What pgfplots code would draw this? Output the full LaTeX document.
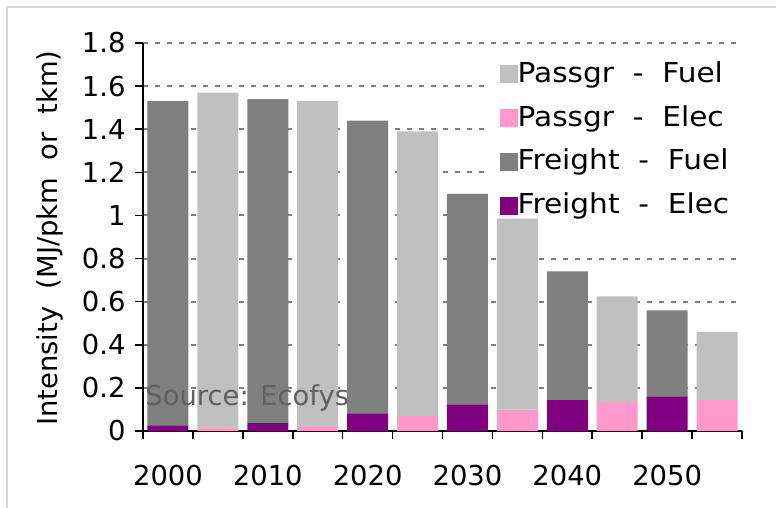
\documentclass[border=0pt]{standalone}
\usepackage{fontspec}
\setmainfont{DejaVu Sans}
\usepackage{pgfplots}
\pgfplotsset{compat=1.18}
\definecolor{pfuel}{HTML}{C0C0C0}
\definecolor{pelec}{HTML}{FF99CC}
\definecolor{ffuel}{HTML}{808080}
\definecolor{felec}{HTML}{800080}
\definecolor{framec}{HTML}{D9D9D9}
\definecolor{srcgray}{HTML}{606060}
\newcommand{\legtxt}[1]{\scalebox{1.08}[1]{#1}}
\begin{document}
\fontsize{13.7bp}{16bp}\selectfont
\begin{tikzpicture}
\useasboundingbox (0,0) rectangle (388bp,254bp);
\draw[framec, line width=1bp] (3.5bp,0) -- (3.5bp,250.5bp) -- (388bp,250.5bp);
\begin{axis}[
  at={(71.5bp,38.5bp)}, anchor=south west,
  scale only axis, width=299.5bp, height=194bp,
  ybar stacked, bar width=0.82,
  xmin=-0.5, xmax=11.5, ymin=0, ymax=1.8,
  axis lines*=left,
  axis line style={line width=1bp, black},
  ytick={0,0.2,0.4,0.6,0.8,1,1.2,1.4,1.6,1.8},
  xtick={-0.5,0.5,1.5,2.5,3.5,4.5,5.5,6.5,7.5,8.5,9.5,10.5,11.5},
  x tick label as interval,
  xticklabels={2000,,2010,,2020,,2030,,2040,,2050,},
  xticklabel style={yshift=-8.5bp},
  tick align=outside, major tick length=4bp,
  tick style={line width=0.8bp, black},
  /pgf/number format/assume math mode=true,
  ymajorgrids,
  major grid style={ffuel, line width=1bp, dash pattern=on 2.5bp off 3.5bp},
  ylabel={Intensity\ \ (MJ/pkm\ \ or\ \ tkm)},
  ylabel style={at={(rel axis cs:-0.155,0.497)}, anchor=center},
  legend style={at={(0.578,0.951)}, anchor=north west, draw=none, fill=white,
    inner xsep=5bp, inner ysep=0bp, row sep=9.85bp,
    nodes={inner sep=0pt, text height=10bp, text depth=2bp},
    /tikz/every even column/.append style={column sep=3.5bp}},
  legend image code/.code={\fill[#1] (0bp,-4.5bp) rectangle (9bp,4.5bp);},
  legend cell align=left,
]
% Freight - Elec
\addplot[forget plot, fill=felec, draw=none] coordinates {
  (0,0.026) (1,0) (2,0.036) (3,0) (4,0.082) (5,0) (6,0.124) (7,0) (8,0.143) (9,0) (10,0.161) (11,0)};
% Passgr - Elec
\addplot[forget plot, fill=pelec, draw=none] coordinates {
  (0,0) (1,0.017) (2,0) (3,0.026) (4,0) (5,0.070) (6,0) (7,0.100) (8,0) (9,0.135) (10,0) (11,0.144)};
% Freight - Fuel
\addplot[forget plot, fill=ffuel, draw=none] coordinates {
  (0,1.504) (1,0) (2,1.504) (3,0) (4,1.358) (5,0) (6,0.976) (7,0) (8,0.597) (9,0) (10,0.399) (11,0)};
% Passgr - Fuel
\addplot[forget plot, fill=pfuel, draw=none] coordinates {
  (0,0) (1,1.553) (2,0) (3,1.504) (4,0) (5,1.320) (6,0) (7,0.885) (8,0) (9,0.490) (10,0) (11,0.316)};
\addlegendimage{fill=pfuel, draw=none}
\addlegendentry{\legtxt{Passgr\ \ -\ \ Fuel}}
\addlegendimage{fill=pelec, draw=none}
\addlegendentry{\legtxt{Passgr\ \ -\ \ Elec}}
\addlegendimage{fill=ffuel, draw=none}
\addlegendentry{\legtxt{Freight\ \ -\ \ Fuel}}
\addlegendimage{fill=felec, draw=none}
\addlegendentry{\legtxt{Freight\ \ -\ \ Elec}}
\coordinate (src) at (axis cs:-0.46,0.152);
\end{axis}
\node[anchor=west, inner sep=0pt, text=srcgray] at (src) {Source: Ecofys};
\end{tikzpicture}
\end{document}
